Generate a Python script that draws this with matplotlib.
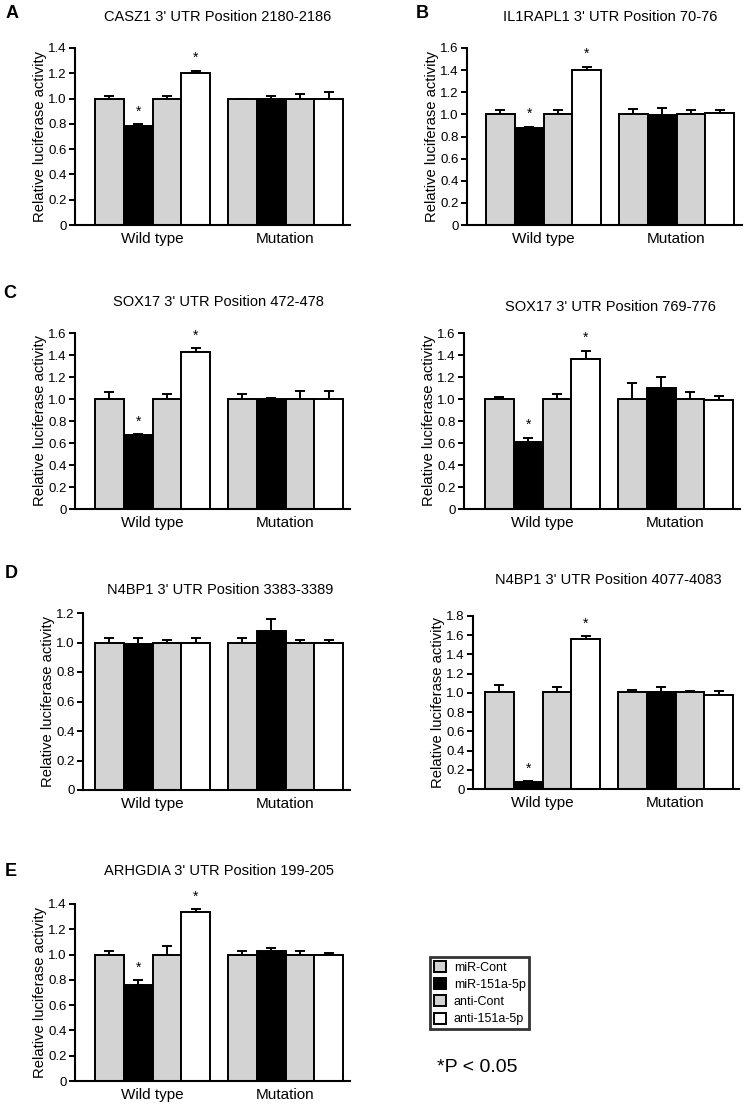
import matplotlib.pyplot as plt
import numpy as np
from matplotlib.patches import Patch

plt.rcParams['font.family'] = ['Liberation Sans', 'DejaVu Sans']

W, H = 745, 1107

# colours per treatment
conditions = ['miR-Cont', 'miR-151a-5p', 'anti-Cont', 'anti-151a-5p']
cond_colors = ['#d3d3d3', '#000000', '#d3d3d3', '#ffffff']
groups = ['Wild type', 'Mutation']

# values: wild type (4 bars) then mutation (4 bars)
casz1_mean = [1.00, 0.78, 1.00, 1.20, 1.00, 1.00, 1.00, 1.00]
casz1_err = [0.02, 0.02, 0.02, 0.02, 0.00, 0.02, 0.04, 0.05]
casz1_sig = [1, 3]

il1rapl1_mean = [1.00, 0.88, 1.00, 1.40, 1.00, 0.99, 1.00, 1.01]
il1rapl1_err = [0.04, 0.01, 0.04, 0.03, 0.05, 0.07, 0.04, 0.03]
il1rapl1_sig = [1, 3]

sox17a_mean = [1.00, 0.67, 1.00, 1.43, 1.00, 1.00, 1.00, 1.00]
sox17a_err = [0.06, 0.01, 0.05, 0.03, 0.05, 0.01, 0.07, 0.07]
sox17a_sig = [1, 3]

sox17b_mean = [1.00, 0.61, 1.00, 1.36, 1.00, 1.10, 1.00, 0.99]
sox17b_err = [0.02, 0.04, 0.05, 0.08, 0.15, 0.10, 0.06, 0.04]
sox17b_sig = [1, 3]

n4bp1a_mean = [1.00, 0.99, 1.00, 1.00, 1.00, 1.08, 1.00, 1.00]
n4bp1a_err = [0.03, 0.04, 0.02, 0.03, 0.03, 0.08, 0.02, 0.02]
n4bp1a_sig = []

n4bp1b_mean = [1.01, 0.07, 1.01, 1.56, 1.01, 1.01, 1.01, 0.98]
n4bp1b_err = [0.07, 0.01, 0.05, 0.03, 0.02, 0.05, 0.01, 0.04]
n4bp1b_sig = [1, 3]

arhgdia_mean = [1.00, 0.76, 1.00, 1.34, 1.00, 1.03, 1.00, 1.00]
arhgdia_err = [0.03, 0.04, 0.07, 0.02, 0.03, 0.02, 0.03, 0.01]
arhgdia_sig = [1, 3]

# panel: title, letter, ymax, data, axis box in pixels (left, right, top, bottom), first bar px, title pos
panels = [
    ("CASZ1 3' UTR Position 2180-2186", 'A', 1.4, casz1_mean, casz1_err, casz1_sig,
     (75, 350, 48, 225), 95, (218, 17), (12, 13)),
    ("IL1RAPL1 3' UTR Position 70-76", 'B', 1.6, il1rapl1_mean, il1rapl1_err, il1rapl1_sig,
     (467, 742, 48, 225), 486, (610, 17), (422, 13)),
    ("SOX17 3' UTR Position 472-478", 'C', 1.6, sox17a_mean, sox17a_err, sox17a_sig,
     (75, 350, 333, 509), 95, (218, 302), (10, 294)),
    ("SOX17 3' UTR Position 769-776", None, 1.6, sox17b_mean, sox17b_err, sox17b_sig,
     (464, 740, 333, 509), 485, (610, 307), None),
    ("N4BP1 3' UTR Position 3383-3389", 'D', 1.2, n4bp1a_mean, n4bp1a_err, n4bp1a_sig,
     (83, 350, 613, 790), 95, (220, 590), (11, 573)),
    ("N4BP1 3' UTR Position 4077-4083", None, 1.8, n4bp1b_mean, n4bp1b_err, n4bp1b_sig,
     (473, 739, 616, 789), 485, (608, 580), None),
    ("ARHGDIA 3' UTR Position 199-205", 'E', 1.4, arhgdia_mean, arhgdia_err, arhgdia_sig,
     (75, 350, 904, 1081), 95, (219, 871), (11, 871)),
]

bar_px = 28.75
gap = 18 / bar_px
xpos = np.r_[np.arange(4), np.arange(4) + 4 + gap]

fig = plt.figure(figsize=(W / 100, H / 100), dpi=100)

for title, letter, ymax, mean, err, sig, box, first_bar, tpos, lpos in panels:
    l, r, t, b = box
    ax = fig.add_axes([l / W, 1 - b / H, (r - l) / W, (b - t) / H])
    colors = cond_colors * 2
    ax.bar(xpos, mean, width=1.0, color=colors, edgecolor='black', linewidth=1.4, zorder=2)
    err = np.array(err)
    ax.errorbar(xpos, mean, yerr=[np.zeros_like(err), err], fmt='none', ecolor='black',
                elinewidth=1.4, capsize=3.6, capthick=1.4, zorder=1)
    for i in sig:
        ax.annotate('*', (xpos[i], mean[i] + err[i]), xytext=(0, 4), textcoords='offset points',
                    ha='center', va='bottom', fontsize=10)
    x0 = -0.5 - (first_bar - l) / bar_px
    ax.set_xlim(x0, x0 + (r - l) / bar_px)
    ax.set_ylim(0, ymax)
    ticks = np.round(np.arange(0, ymax + 0.01, 0.2), 1)
    ax.set_yticks(ticks)
    ax.set_yticklabels(['0'] + ['%.1f' % v for v in ticks[1:]], fontsize=9.5)
    ax.set_xticks([1.5, 5.5 + gap])
    ax.set_xticklabels(groups, fontsize=11)
    ax.tick_params(axis='x', length=0, pad=5)
    ax.tick_params(axis='y', length=4, width=1.4, pad=2)
    ax.set_ylabel('Relative luciferase activity', fontsize=10.6, labelpad=1)
    for s in ['top', 'right']:
        ax.spines[s].set_visible(False)
    for s in ['left', 'bottom']:
        ax.spines[s].set_linewidth(1.5)
    fig.text(tpos[0] / W, 1 - tpos[1] / H, title, ha='center', va='center', fontsize=10.5)
    if letter:
        fig.text(lpos[0] / W, 1 - lpos[1] / H, letter, ha='center', va='center',
                 fontsize=13, fontweight='bold')

handles = [Patch(facecolor=c, edgecolor='black', linewidth=1.4) for c in cond_colors]
leg = fig.legend(handles, conditions, loc='upper left', bbox_to_anchor=(430 / W, 1 - 957 / H),
                 fontsize=9, frameon=True, fancybox=False, handlelength=1.0, handleheight=1.0,
                 handletextpad=0.6, labelspacing=0.35, borderpad=0.3, borderaxespad=0)
leg.get_frame().set_edgecolor('black')
leg.get_frame().set_linewidth(2)

fig.text(437 / W, 1 - 1068 / H, '*P < 0.05', ha='left', va='center', fontsize=14)

fig.savefig('out.png', dpi=100)
